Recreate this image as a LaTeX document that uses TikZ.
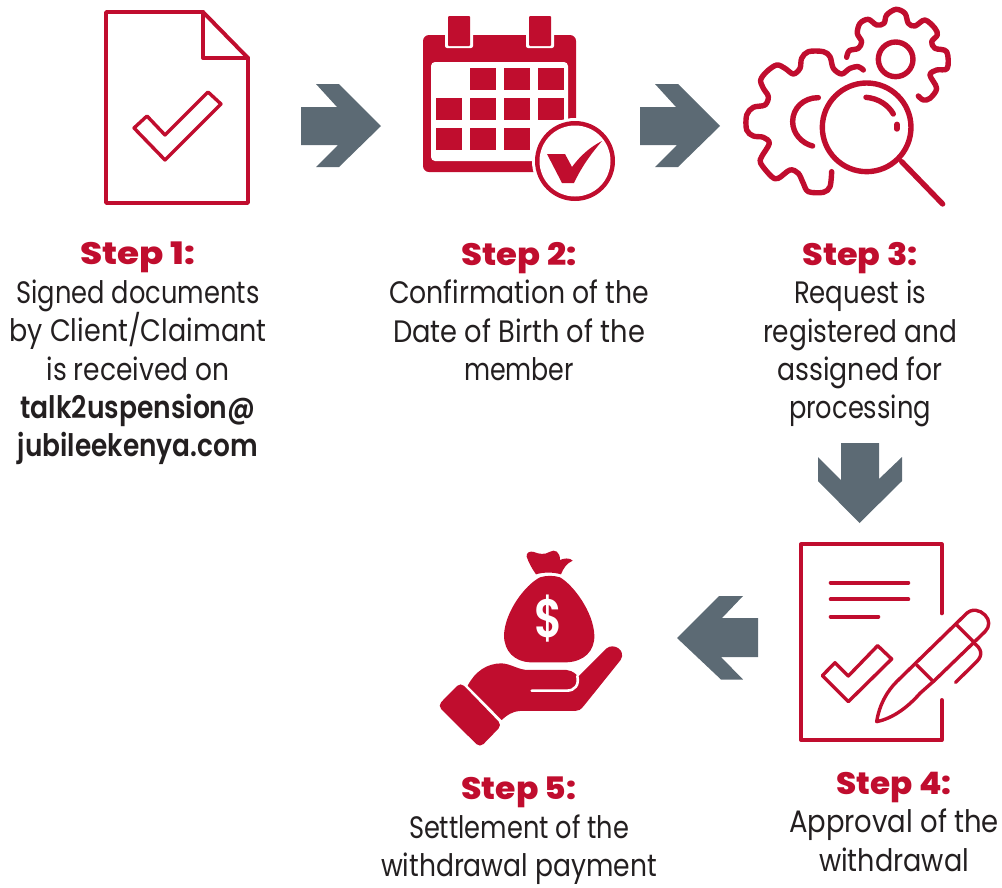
\documentclass[tikz,border=0pt]{standalone}
\usepackage{fontspec}
\usepackage{graphicx}
\setmainfont{Poppins}[BoldFont=* SemiBold]
\newfontfamily\heavyfont{Poppins}[UprightFont=* ExtraBold]
\definecolor{jred}{HTML}{C00D2E}
\definecolor{jgrey}{HTML}{5C6A74}
\definecolor{jink}{HTML}{231F20}
\tikzset{
  icon/.style={draw=jred,line join=round,line cap=round},
  fat/.style={icon,line width=5.4pt},
  thin/.style={icon,line width=3.9pt},
  arrowshape/.style={fill=jgrey,draw=none},
  body/.style={align=center,anchor=north,inner sep=0pt,font=\fontsize{31}{38.4}\selectfont,text=jink},
}
\newcommand{\fitto}[2]{\resizebox{#1pt}{\height}{#2}}
\newcommand{\stp}[1]{\fitto{115}{\heavyfont\textcolor{jred}{Step~#1:}}}
\begin{document}
\begin{tikzpicture}[x=1pt,y=-1pt]
\useasboundingbox (0,0) rectangle (1002,887);
% document 1
\draw[thin] (106,12) -- (203,12) -- (248,58) -- (248,203) -- (106,203) -- cycle;
\draw[thin] (203,12) -- (203,58) -- (248,58);
\draw[icon,line width=3.4pt] (134,128) -- (147,116) -- (165,135) -- (208,92) -- (221,104) -- (165,160) -- cycle;
% arrows
\foreach \dx in {0,339}
  \fill[arrowshape,xshift=\dx pt] (301,107) -- (337,107) -- (316,84) -- (339,84) -- (381,126) -- (339,167) -- (316,167) -- (338,145) -- (301,145) -- cycle;
\fill[arrowshape] (841,443) -- (841,480) -- (818,457) -- (818,481) -- (859.5,523) -- (902,481) -- (902,457) -- (879,479) -- (879,443) -- cycle;
\fill[arrowshape] (758,618) -- (722,618) -- (743,596) -- (719,596) -- (677,638) -- (721,679.5) -- (743,679.5) -- (721,657) -- (758,657) -- cycle;
% calendar
\fill[jred,rounded corners=6pt] (423,35) rectangle (576,172);
\fill[white,rounded corners=4pt] (431,62) rectangle (568,161);
\foreach \x in {445,526} {
  \fill[white,rounded corners=2pt] (\x,13) rectangle ++(28,35);
  \fill[jred,rounded corners=1pt] (\x+3,16) rectangle ++(22,30);
}
\foreach \x/\y in {470/68,504/68,538/68,436/98,470/98,504/98,538/98,436/128,470/128,504/128}
  \fill[jred] (\x,\y) rectangle ++(25.5,22);
\fill[white] (575,161) circle (43);
\fill[jred] (575,161) circle (40);
\fill[white] (575,161) circle (35.5);
\fill[jred] (547,154) -- (565,154) -- (572,167) .. controls (580,156) and (590,147) .. (602,141) .. controls (590,155) and (581,168) .. (574,183) -- (562,183) -- cycle;
% gears
\begin{scope}[shift={(730,0)},x=0.3333pt,y=-0.3333pt]
\draw[fat] plot[smooth,tension=0.55] coordinates {(350,172)(358,152)(385,145)(395,125)(382,100)(390,70)(415,58)(440,75)(462,70)(470,45)(498,28)(525,40)(535,70)(555,78)(585,60)(615,85)(622,105)(605,125)(615,145)(650,155)(652,205)(620,210)(600,225)(620,265)(600,295)(580,300)(565,288)};
\draw[fat] plot[smooth,tension=0.55] coordinates {(400,210)(385,200)(360,205)(335,222)(310,205)(300,170)(280,155)(235,155)(215,175)(210,205)(190,222)(165,205)(140,195)(110,215)(92,240)(100,265)(115,290)(105,315)(70,322)(50,345)(50,390)(70,408)(100,412)(118,430)(95,470)(92,490)(125,530)(145,535)(180,510)(205,520)(220,550)(235,575)(280,577)(300,560)(305,515)};
\draw[fat] (265,293) .. controls (220,293) and (188,325) .. (188,365) .. controls (188,400) and (215,430) .. (248,438);
\draw[fat] (497,178) circle (52);
\draw[fat] (410,382) circle (133);
\draw[fat] (515,485) -- (638,612);
\draw[fat] (408,292) .. controls (445,295) and (475,315) .. (490,342);
\draw[fat] (501,373) -- (501,387);
\end{scope}
% approval doc
\begin{scope}[shift={(780,530)},x=0.3333pt,y=-0.3333pt]
\draw[thin] (485,250) -- (485,43) -- (63,43) -- (63,630) -- (485,630) -- (485,510);
\draw[thin] (152,158) -- (385,158);
\draw[thin] (152,208) -- (385,208);
\draw[thin] (152,260) -- (295,260);
\draw[icon,line width=3.4pt] (127,437) -- (165,398) -- (205,438) -- (293,347) -- (335,387) -- (205,515) -- cycle;
\draw[icon,line width=3.4pt] (290,575) .. controls (298,525) and (320,485) .. (350,455) -- (555,255) .. controls (575,232) and (600,240) .. (615,255) .. controls (630,270) and (630,290) .. (615,305) -- (465,450) -- (420,490) .. controls (385,530) and (340,565) .. (290,575) -- cycle;
\draw[icon,line width=3.4pt] (530,285) -- (580,335);
\draw[icon,line width=3.4pt] (410,405) -- (460,455);
\draw[icon,line width=3.4pt] (580,338) .. controls (605,355) and (610,375) .. (590,395) -- (527,457);
\end{scope}
% money
\begin{scope}[shift={(430,540)},x=0.3333pt,y=-0.3333pt]
\fill[jred] (318,103) .. controls (305,85) and (295,65) .. (290,50) .. controls (288,38) and (300,32) .. (312,36) .. controls (325,42) and (345,45) .. (358,36) .. controls (375,26) and (390,35) .. (390,60) .. controls (400,55) and (420,52) .. (428,62) .. controls (410,70) and (400,85) .. (393,103) .. controls (370,96) and (340,96) .. (318,103) -- cycle;
\fill[jred] (330,112) .. controls (350,106) and (370,106) .. (390,112) .. controls (430,135) and (490,215) .. (493,285) .. controls (495,335) and (460,365) .. (410,367) -- (300,367) .. controls (255,365) and (222,335) .. (222,285) .. controls (225,215) and (285,135) .. (330,112) -- cycle;
\fill[jred] (113,437) .. controls (135,395) and (170,370) .. (215,370) .. controls (245,372) and (265,390) .. (295,390) -- (410,390) .. controls (430,392) and (440,405) .. (445,410) -- (530,325) .. controls (550,308) and (590,330) .. (572,360) -- (462,497) .. controls (452,510) and (445,513) .. (435,513) -- (270,513) .. controls (245,515) and (232,525) .. (215,540) -- cycle;
\draw[white,line width=2.6pt,line cap=round] (305,452) -- (410,452) .. controls (435,452) and (448,435) .. (442,408);
\fill[jred,rounded corners=5pt] (92,427) -- (216,555) -- (150,623) -- (23,497) -- cycle;
\end{scope}
\node[inner sep=0pt,text=white] (dollar) at (549,619) {\scalebox{0.8}[1]{\fontsize{54}{54}\selectfont\bfseries\$}};
% labels
\node[body] (t1) at (138,242) {\stp{1}\\\fitto{243}{Signed documents}\\\fitto{257}{by Client/Claimant}\\\fitto{183}{is received on}\\\fitto{235}{\textbf{talk2uspension@}}\\\fitto{240}{\textbf{jubileekenya.com}}};
\node[body] (t2) at (519,242) {\stp{2}\\\fitto{260}{Confirmation of the}\\\fitto{252}{Date of Birth of the}\\\fitto{110}{member}};
\node[body] (t3) at (860,242) {\stp{3}\\\fitto{132}{Request is}\\\fitto{194}{registered and}\\\fitto{165}{assigned for}\\\fitto{142}{processing}};
\node[body] (t4) at (894,772) {\stp{4}\\\fitto{210}{Approval of the}\\\fitto{150}{withdrawal}};
\node[body] (t5) at (519,777) {\stp{5}\\\fitto{220}{Settlement of the}\\\fitto{276}{withdrawal payment}};
\end{tikzpicture}
\end{document}
